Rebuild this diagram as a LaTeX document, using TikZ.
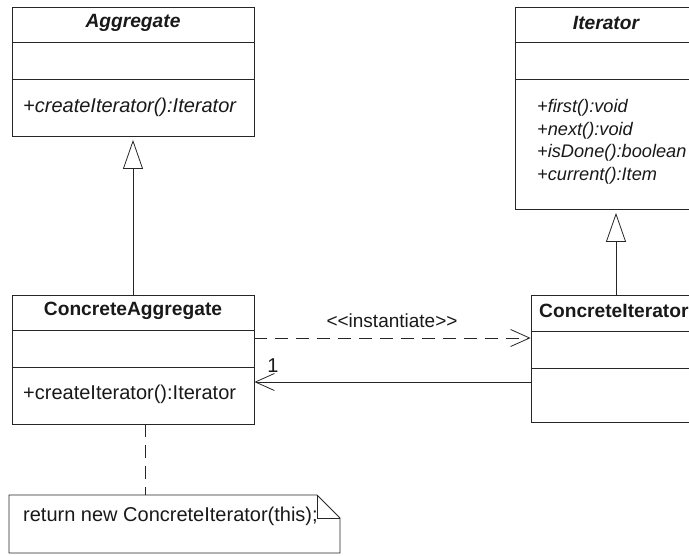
\documentclass[tikz,border=0pt]{standalone}
\usepackage{fontspec}
\setmainfont{Liberation Sans}
\usetikzlibrary{arrows.meta}

\definecolor{umlline}{rgb}{0.15,0.15,0.15}

\begin{document}
\begin{tikzpicture}[x=1pt, y=-1pt,
    classbox/.style={draw=umlline, line width=0.8pt, inner sep=0pt},
    txt/.style={inner sep=0pt, text=black!90, font=\fontsize{20}{24}\selectfont},
    title/.style={txt, font=\fontsize{19.2}{23}\selectfont\bfseries},
    gen/.style={draw=umlline, line width=0.8pt, shorten >=3.5pt, -{Triangle[open, length=29pt, width=20pt]}},
    assoc/.style={draw=umlline, line width=0.8pt, -{Straight Barb[length=19pt, width=17pt]}},
    dep/.style={assoc, dash pattern=on 13pt off 8pt}] %uml
            \useasboundingbox (0,0) rectangle (689,555);

            % classes
            \node[classbox, minimum width=242pt, minimum height=129pt] (agg) at (133,71.5) {};
            \draw[umlline, line width=0.8pt] (agg.west |- 0,42) -- (agg.east |- 0,42);
            \draw[umlline, line width=0.8pt] (agg.west |- 0,79) -- (agg.east |- 0,79);
            \node[title, font=\fontsize{19.2}{23}\selectfont\bfseries\itshape] (aggname) at (133,23) {Aggregate};
            \node[txt, anchor=west, font=\fontsize{20}{24}\selectfont\itshape] (aggop) at (23,107) {+createIterator():Iterator};

            \node[classbox, minimum width=182pt, minimum height=202pt] (iter) at (606,108) {};
            \draw[umlline, line width=0.8pt] (iter.west |- 0,42) -- (iter.east |- 0,42);
            \draw[umlline, line width=0.8pt] (iter.west |- 0,79) -- (iter.east |- 0,79);
            \node[title, font=\fontsize{19.2}{23}\selectfont\bfseries\itshape] (itername) at (606,23) {Iterator};
            \node[txt, anchor=west, font=\fontsize{18.2}{22}\selectfont\itshape] (iterfirst) at (537,108) {+first():void};
            \node[txt, anchor=west, font=\fontsize{18.2}{22}\selectfont\itshape] (iternext) at (537,131) {+next():void};
            \node[txt, anchor=west, font=\fontsize{18.2}{22}\selectfont\itshape] (iterdone) at (537,153) {+isDone():boolean};
            \node[txt, anchor=west, font=\fontsize{18.2}{22}\selectfont\itshape] (itercur) at (537,176) {+current():Item};

            \node[classbox, minimum width=242pt, minimum height=129pt] (cagg) at (133,359.5) {};
            \draw[umlline, line width=0.8pt] (cagg.west |- 0,330) -- (cagg.east |- 0,330);
            \draw[umlline, line width=0.8pt] (cagg.west |- 0,367) -- (cagg.east |- 0,367);
            \node[title] (caggname) at (133,311) {ConcreteAggregate};
            \node[txt, anchor=west] (caggop) at (23,394) {+createIterator():Iterator};

            \node[classbox, minimum width=170pt, minimum height=127pt] (citer) at (616,358.5) {};
            \draw[umlline, line width=0.8pt] (citer.west |- 0,331) -- (citer.east |- 0,331);
            \draw[umlline, line width=0.8pt] (citer.west |- 0,368) -- (citer.east |- 0,368);
            \node[title, anchor=west] (citername) at (539,311) {ConcreteIterator};

            % relations
            \draw[gen] (cagg.north) -- (agg.south);
            \draw[gen] (citer.north) -- (citer.north |- iter.south);
            \draw[dep] (cagg.east |- 0,338) -- (citer.west |- 0,338);
            \node[txt, font=\fontsize{19}{23}\selectfont] (inst) at (392,321) {{<}{<}instantiate{>}{>}};
            \draw[assoc] (citer.west |- 0,382) -- (cagg.east |- 0,382);
            \node[txt] (mult) at (273,366) {1};

            % note
            \coordinate (notetop) at (145,495);
            \draw[umlline, line width=0.8pt] (9,495) -- (317,495) -- (340,518) -- (340,553) -- (9,553) -- cycle;
            \draw[umlline, line width=0.8pt] (317,495) -- (317,518) -- (340,518);
            \node[txt, anchor=west] (notetext) at (23,516) {return new ConcreteIterator(this);};
            \draw[umlline, line width=0.8pt, dash pattern=on 13pt off 8pt] (notetop |- cagg.south) -- (notetop);
        \end{tikzpicture}
\end{document}
